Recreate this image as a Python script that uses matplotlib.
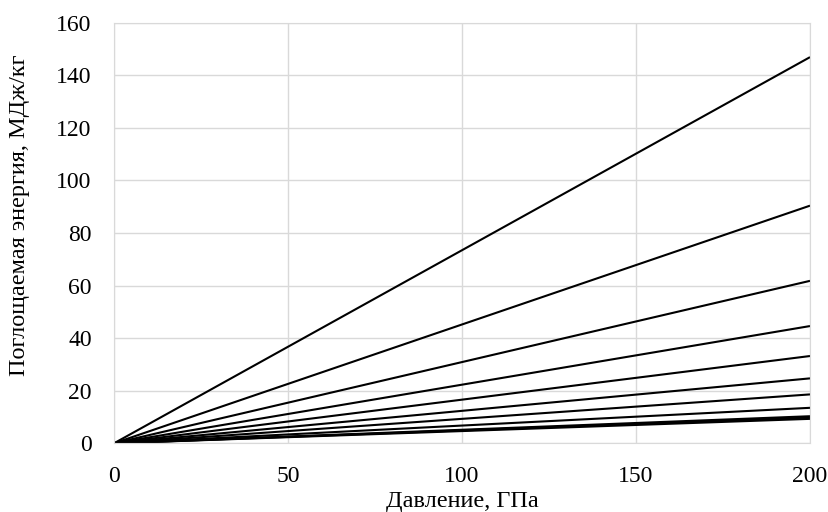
import matplotlib
matplotlib.use("Agg")
import matplotlib.pyplot as plt

# pressure, GPa (lines are straight from the origin)
pressure = [0, 200]
# absorbed energy at 200 GPa for each curve, MJ/kg
end_energy = [146.9, 90.4, 61.8, 44.6, 33.2, 24.7, 18.6, 13.5, 10.3, 9.8, 9.3]

x_ticks = [0, 50, 100, 150, 200]
y_ticks = [0, 20, 40, 60, 80, 100, 120, 140, 160]

plt.rcParams["font.family"] = ["Liberation Serif", "DejaVu Serif"]

fig = plt.figure(figsize=(8.29, 5.12), dpi=100)
left, right, bottom, top = 114 / 829, 810 / 829, 1 - 443.3 / 512, 1 - 22.7 / 512
ax = fig.add_axes([left, bottom, right - left, top - bottom])

for e in end_energy:
    ax.plot(pressure, [0, e], color="black", linewidth=1.5, solid_capstyle="butt")

ax.set_xlim(0, 200)
ax.set_ylim(0, 160)
ax.set_xticks(x_ticks)
ax.set_yticks(y_ticks)
ax.grid(True, color="#d9d9d9", linewidth=1.0)
ax.set_axisbelow(True)
for side in ("top", "right", "left", "bottom"):
    ax.spines[side].set_color("#d9d9d9")
ax.tick_params(length=0, labelsize=17)
ax.tick_params(axis="y", pad=16)
ax.tick_params(axis="x", pad=16)

ax.set_xlabel("Давление, ГПа", fontsize=17.5)
ax.xaxis.set_label_coords(0.5, -0.113)
ax.set_ylabel("Поглощаемая энергия, МДж/кг", fontsize=17.5)
ax.yaxis.set_label_coords(-0.121, 0.543)

fig.savefig("out.png", dpi=100)
plt.close(fig)
